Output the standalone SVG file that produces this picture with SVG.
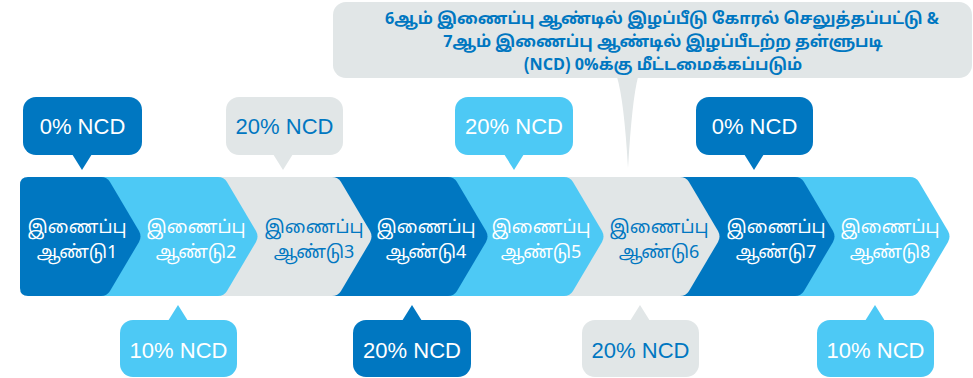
<svg xmlns="http://www.w3.org/2000/svg" width="973" height="378" viewBox="0 0 973 378">
<style>
.dark{fill:#0077C1}
.light{fill:#4DC9F5}
.grey{fill:#E1E6E7}
.lbl{font-family:"Liberation Sans","Noto Sans",sans-serif;font-size:22px;text-anchor:middle}
.tam{font-family:"Noto Sans Tamil","Lohit Tamil","Noto Sans","DejaVu Sans",sans-serif;font-size:18px;text-anchor:middle}
.big{font-family:"Noto Sans Tamil","Lohit Tamil","Noto Sans","DejaVu Sans",sans-serif;font-size:16.2px;font-weight:bold;text-anchor:middle;fill:#0077C1}
.w{fill:#FFFFFF}
.b{fill:#0077C1}
</style>
<rect width="973" height="378" fill="#FFFFFF"/>
<g id="chevrons">
<g id="year8"><path class="light" d="M790,177 H910 Q916,177 919,182 L948,231 Q951,236.5 948,242 L919,291 Q916,296 910,296 H790 Z"/><text class="tam w" x="890" y="233">இணைப்பு</text><text class="tam w" x="890" y="258">ஆண்டு8</text></g>
<g id="year7"><path class="dark" d="M676,177 H795 Q801,177 804,182 L833,231 Q836,236.5 833,242 L804,291 Q801,296 795,296 H676 Z"/><text class="tam w" x="776" y="233">இணைப்பு</text><text class="tam w" x="776" y="258">ஆண்டு7</text></g>
<g id="year6"><path class="grey" d="M560,177 H680 Q686,177 689,182 L718,231 Q721,236.5 718,242 L689,291 Q686,296 680,296 H560 Z"/><text class="tam b" x="659" y="233">இணைப்பு</text><text class="tam b" x="659" y="258">ஆண்டு6</text></g>
<g id="year5"><path class="light" d="M444,177 H564 Q570,177 573,182 L602,231 Q605,236.5 602,242 L573,291 Q570,296 564,296 H444 Z"/><text class="tam w" x="541" y="233">இணைப்பு</text><text class="tam w" x="541" y="258">ஆண்டு5</text></g>
<g id="year4"><path class="dark" d="M328,177 H448 Q454,177 457,182 L486,231 Q489,236.5 486,242 L457,291 Q454,296 448,296 H328 Z"/><text class="tam w" x="426" y="233">இணைப்பு</text><text class="tam w" x="426" y="258">ஆண்டு4</text></g>
<g id="year3"><path class="grey" d="M214,177 H332 Q338,177 341,182 L370,231 Q373,236.5 370,242 L341,291 Q338,296 332,296 H214 Z"/><text class="tam b" x="314" y="233">இணைப்பு</text><text class="tam b" x="314" y="258">ஆண்டு3</text></g>
<g id="year2"><path class="light" d="M100,177 H218 Q224,177 227,182 L256,231 Q259,236.5 256,242 L227,291 Q224,296 218,296 H100 Z"/><text class="tam w" x="196" y="233">இணைப்பு</text><text class="tam w" x="196" y="258">ஆண்டு2</text></g>
<g id="year1"><path class="dark" d="M28,177 H101 Q107,177 110,182 L139,231 Q142,236.5 139,242 L110,291 Q107,296 101,296 H28 Q20,296 20,288 V185 Q20,177 28,177 Z"/><text class="tam w" x="77" y="233">இணைப்பு</text><text class="tam w" x="77" y="258">ஆண்டு1</text></g>
</g>
<g id="top-callouts">
<g id="t1"><rect class="dark" x="23" y="97" width="119" height="58" rx="13"/><path class="dark" d="M72,154 L82,170 L92,154 Z"/><text class="lbl w" x="82.5" y="134">0% NCD</text></g>
<g id="t2"><rect class="grey" x="226" y="97" width="117" height="58" rx="13"/><path class="grey" d="M273,154 L283,170 L293,154 Z"/><text class="lbl b" x="284.5" y="134">20% NCD</text></g>
<g id="t3"><rect class="light" x="455" y="97" width="118" height="58" rx="13"/><path class="light" d="M504,154 L514,170 L524,154 Z"/><text class="lbl w" x="514" y="134">20% NCD</text></g>
<g id="t4"><rect class="dark" x="696" y="97" width="117" height="58" rx="13"/><path class="dark" d="M744,154 L754,170 L764,154 Z"/><text class="lbl w" x="754.5" y="134">0% NCD</text></g>
</g>
<g id="bottom-callouts">
<g id="b1"><rect class="light" x="120" y="320" width="117" height="57" rx="13"/><path class="light" d="M168,321 L178,305 L188,321 Z"/><text class="lbl w" x="178.5" y="358">10% NCD</text></g>
<g id="b2"><rect class="dark" x="353" y="320" width="118" height="57" rx="13"/><path class="dark" d="M402,321 L412,305 L422,321 Z"/><text class="lbl w" x="412" y="358">20% NCD</text></g>
<g id="b3"><rect class="grey" x="582" y="320" width="117" height="57" rx="13"/><path class="grey" d="M630,321 L640,305 L650,321 Z"/><text class="lbl b" x="640.5" y="358">20% NCD</text></g>
<g id="b4"><rect class="light" x="817" y="320" width="117" height="57" rx="13"/><path class="light" d="M865,321 L875,305 L885,321 Z"/><text class="lbl w" x="875.5" y="358">10% NCD</text></g>
</g>
<g id="note">
<rect class="grey" x="333" y="2" width="639" height="76" rx="13"/>
<path class="grey" d="M617,77 Q624,100 628,168 Q632,100 638,77 Z"/>
<text class="big" x="662" y="24">6ஆம் இணைப்பு ஆண்டில் இழப்பீடு கோரல் செலுத்தப்பட்டு &amp;</text>
<text class="big" x="663" y="47">7ஆம் இணைப்பு ஆண்டில் இழப்பீடற்ற தள்ளுபடி</text>
<text class="big" x="663" y="70">(NCD) 0%க்கு மீட்டமைக்கப்படும்</text>
</g>
</svg>
